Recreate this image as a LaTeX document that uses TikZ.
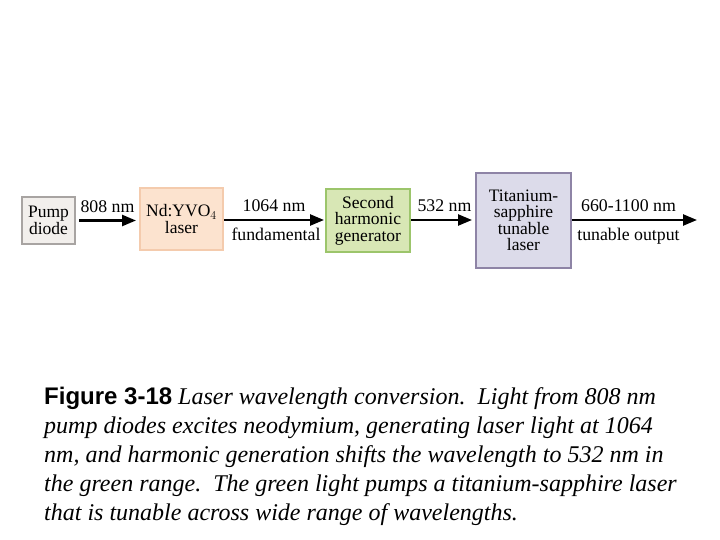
\documentclass[tikz,border=0pt]{standalone}
\usepackage{fontspec}
\setmainfont{Liberation Serif}
\newfontfamily\capsans{Liberation Sans}
\usetikzlibrary{arrows.meta}
\definecolor{pumpfill}{HTML}{F2EFEC}
\definecolor{pumpline}{HTML}{A8A4A2}
\definecolor{ndfill}{HTML}{FCE3CF}
\definecolor{ndline}{HTML}{F4CBAD}
\definecolor{shgfill}{HTML}{D8E7B5}
\definecolor{shgline}{HTML}{9CC56B}
\definecolor{tifill}{HTML}{DCDBEA}
\definecolor{tiline}{HTML}{8E84A6}
\begin{document}
\begin{tikzpicture}[x=1pt,y=-1pt,
    stage/.style={draw,line width=2pt,align=center,inner sep=0pt,
        font=\fontsize{17.5}{16.5}\selectfont},
    beam/.style={line width=2.5pt,-{Triangle[length=14pt,width=11pt]}},
    wl/.style={font=\fontsize{17.8}{17}\selectfont,inner sep=0pt}]
    \useasboundingbox (0,0) rectangle (720,540);
    %% boxes
    \node[stage,fill=pumpfill,draw=pumpline,minimum width=53pt,minimum height=47pt]
        (pump) at (48.5,220.5) {Pump\\diode};
    \node[stage,fill=ndfill,draw=ndline,minimum width=83pt,minimum height=62pt]
        (nd) at (181.5,219) {Nd:YVO$_4$\\laser};
    \node[stage,fill=shgfill,draw=shgline,minimum width=84pt,minimum height=63pt]
        (shg) at (368,220.5) {Second\\harmonic\\generator};
    \node[stage,fill=tifill,draw=tiline,minimum width=95pt,minimum height=95pt]
        (tisa) at (523.5,220.5) {Titanium-\\sapphire\\tunable\\laser};
    \coordinate (out) at (697,220);
    %% beams
    \draw[beam] ([xshift=3pt]pump.east) -- ([xshift=-3pt]nd.west |- pump.east)
        node[wl,midway,above=7pt] (l808) {808 nm};
    \draw[beam] (nd.east |- out) -- ([xshift=-1pt]shg.west |- out)
        node[wl,midway,above=7pt] (l1064) {1064 nm}
        node[wl,midway,below=7pt,xshift=2pt] (lfund) {fundamental};
    \draw[beam] (shg.east |- out) -- ([xshift=-3pt]tisa.west |- out)
        node[wl,midway,above=7pt,xshift=3pt] (l532) {532 nm};
    \draw[beam] (tisa.east |- out) -- (out)
        node[wl,midway,above=7pt,xshift=-6pt] (l660) {660-1100 nm}
        node[wl,midway,below=7pt,xshift=-6pt] (ltune) {tunable output};
    %% caption
    \node[anchor=north west,align=left,inner sep=0pt,
        font=\fontsize{24}{29}\selectfont\itshape] (caption) at (44,387)
        {{\capsans\bfseries\upshape Figure 3-18} Laser wavelength conversion.\ \ Light from 808 nm\\
        pump diodes excites neodymium, generating laser light at 1064\\
        nm, and harmonic generation shifts the wavelength to 532 nm in\\
        the green range.\ \ The green light pumps a titanium-sapphire laser\\
        that is tunable across wide range of wavelengths.};
\end{tikzpicture}
\end{document}
